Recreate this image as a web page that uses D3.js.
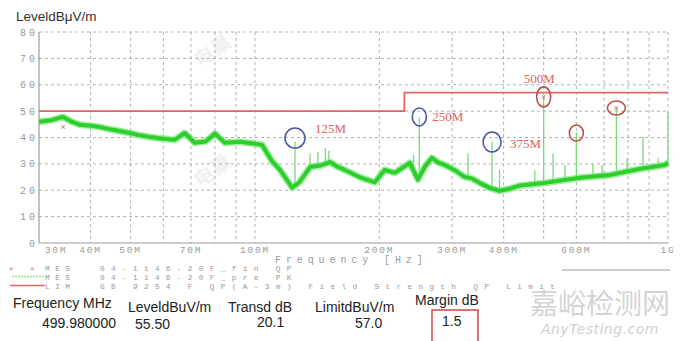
<!DOCTYPE html>
<html>
<head>
<meta charset="utf-8">
<script src="https://cdn.jsdelivr.net/npm/d3@7"></script>
<style>
  body { margin: 0; background: #fff; }
  svg { display: block; }
</style>
</head>
<body>
<script>
// trace: [MHz, dBuV/m]
var traceFreq = [30, 32, 34.3, 36, 37.7, 40, 42, 45, 49.8, 52, 55.6, 60, 63.9, 67.6, 71.5, 76, 80, 84.6, 92, 100,
  104, 110, 115, 123, 128, 136, 145, 152, 158, 165, 179, 195, 206, 218, 230, 237, 248, 258, 268, 278,
  288, 304, 322, 335, 350, 370, 391, 414, 438, 470, 504, 550, 612, 660, 723, 790, 855, 930, 983, 1000];
var traceLevel = [46, 46.5, 47.8, 46, 44.8, 44.5, 44, 43, 41.7, 41, 40.2, 39.5, 39.1, 41.7, 38, 38.5, 41.5, 38, 38.4, 37.6,
  37.2, 31, 27.7, 21, 23, 28.8, 29.5, 30.7, 29, 27.7, 25, 23, 27.7, 26.6, 29, 30.4, 24, 29, 32.3, 30.5,
  29.6, 27.7, 25, 24.5, 22.8, 20.9, 19.8, 20.6, 21.8, 22.3, 22.8, 23.7, 24.7, 25.2, 25.8, 27, 28.1, 29, 29.6, 30.5];

// peak spikes: frequency and top level
var spikeFreq = [125, 136, 142, 148, 151, 242, 250, 328, 375, 391, 476, 500, 527, 563, 600, 658, 692, 750, 796, 870, 946, 1000];
var spikeTop = [38.5, 34, 34.5, 36, 35, 33.4, 47.5, 34, 38.5, 27.7, 27.5, 55.5, 34, 29.6, 42, 30, 29.6, 51, 32.3, 40.2, 32.3, 49.7];

// limit line GB 9254
var limitFreq = [30, 230, 230, 1000];
var limitLevel = [50, 50, 57, 57];

// marked frequencies
var markFreq = [125, 250, 375, 500, 600, 750];
var markLevel = [39.8, 47.8, 38.3, 55.4, 41.7, 51.2];
var markType = ["blue", "blue", "blue", "red", "red", "red"];
var markLabel = ["125M", "250M", "375M", "500M", "", ""];

// QP results
var qpFreq = [34.3, 500, 750];
var qpLevel = [44, 55.5, 51];

var yTicks = [0, 10, 20, 30, 40, 50, 60, 70, 80];
var xGrid = [40, 50, 60, 70, 80, 90, 100, 200, 300, 400, 500, 600, 700, 800, 900, 1000];
var xTickVal = [30, 40, 50, 70, 100, 200, 300, 400, 600, 1000];
var xTickText = ["30M", "40M", "50M", "70M", "100M", "200M", "300M", "400M", "600M", "1G"];

var legendKey = ["MES", "MES", "LIM"];
var legendText = ["04-1146-20F_fin QP", "04-1146-20F_pre PK", "GB 9254 F QP(A-3m) Field Strength QP Limit"];

var tableHead = ["Frequency MHz", "LeveldBuV/m", "Transd dB", "LimitdBuV/m", "Margin dB"];
var tableVal = ["499.980000", "55.50", "20.1", "57.0", "1.5"];

var W = 680, H = 341;
var svg = d3.select("body").append("svg").attr("width", W).attr("height", H);

var x = d3.scaleLog().domain([30, 1000]).range([39, 668]);
var y = d3.scaleLinear().domain([0, 80]).range([243, 32]);

var grey = "#999";
var mono = "'Liberation Mono', 'DejaVu Sans Mono', monospace";
var sans = "'Liberation Sans', Arial, sans-serif";

// title
svg.append("text").attr("x", 16).attr("y", 21)
  .style("font-family", sans).style("font-size", "13.5px").style("fill", "#333")
  .text("LeveldBμV/m");

// faint logo watermarks in the plot
[[200, 68], [200, 188]].forEach(function (p) {
  svg.append("text").attr("transform", "translate(" + p[0] + "," + p[1] + ") rotate(-35)")
    .style("font-family", "'Noto Sans CJK SC'").style("font-size", "20px").style("font-weight", "bold")
    .style("fill", "#f0f0f0").text("电巢");
});

// grid
var g = svg.append("g");
g.selectAll(".hg").data(yTicks.slice(1)).enter().append("line")
  .attr("x1", 39).attr("x2", 668)
  .attr("y1", function (d) { return y(d); }).attr("y2", function (d) { return y(d); })
  .style("stroke", "#a8a8a8").style("stroke-width", 0.9).style("stroke-dasharray", "3,3");
g.selectAll(".vg").data(xGrid).enter().append("line")
  .attr("x1", function (d) { return x(d); }).attr("x2", function (d) { return x(d); })
  .attr("y1", y(80)).attr("y2", y(0))
  .style("stroke", "#a8a8a8").style("stroke-width", 0.9).style("stroke-dasharray", "3,3");

// axes lines
g.append("line").attr("x1", 39).attr("x2", 39).attr("y1", y(80)).attr("y2", y(0))
  .style("stroke", "#999").style("stroke-width", 1.2);
g.append("line").attr("x1", 39).attr("x2", 668).attr("y1", y(0)).attr("y2", y(0))
  .style("stroke", "#999").style("stroke-width", 1.2);

// y tick labels
svg.selectAll(".yl").data(yTicks).enter().append("text")
  .attr("x", 38).attr("y", function (d) { return y(d) + 3.5; })
  .attr("text-anchor", "end")
  .style("font-family", mono).style("font-size", "10px").style("letter-spacing", "3px")
  .style("fill", grey).text(function (d) { return d; });

// x tick labels
svg.selectAll(".xl").data(xTickVal).enter().append("text")
  .attr("x", function (d, i) { return i === 0 ? x(d) + 17 : x(d); })
  .attr("y", 253).attr("text-anchor", "middle")
  .style("font-family", mono).style("font-size", "9.5px").style("letter-spacing", "1.8px")
  .style("fill", grey).text(function (d, i) { return xTickText[i]; });

svg.append("text").attr("x", 275).attr("y", 263)
  .style("font-family", mono).style("font-size", "10px").style("letter-spacing", "4.9px").style("fill", grey)
  .text("Frequency [Hz]");

// limit line
var limitData = limitFreq.map(function (f, i) { return [f, limitLevel[i]]; });
svg.append("path").datum(limitData)
  .attr("d", d3.line().x(function (d) { return x(d[0]); }).y(function (d) { return y(d[1]); }))
  .style("fill", "none").style("stroke", "#e06666").style("stroke-width", 1.8);

// trace
var traceData = traceFreq.map(function (f, i) { return [f, traceLevel[i]]; });
var line = d3.line().x(function (d) { return x(d[0]); }).y(function (d) { return y(d[1]); });

function traceAt(f) {
  var i = d3.bisector(function (d) { return d[0]; }).left(traceData, f);
  if (i <= 0) return traceData[0][1];
  if (i >= traceData.length) return traceData[traceData.length - 1][1];
  var a = traceData[i - 1], b = traceData[i];
  var t = (Math.log(f) - Math.log(a[0])) / (Math.log(b[0]) - Math.log(a[0]));
  return a[1] + t * (b[1] - a[1]);
}

// spikes
svg.selectAll(".sp").data(spikeFreq).enter().append("line")
  .attr("x1", function (d) { return x(d); }).attr("x2", function (d) { return x(d); })
  .attr("y1", function (d) { return y(traceAt(d)); })
  .attr("y2", function (d, i) { return y(spikeTop[i]); })
  .style("stroke", "#7bd87b").style("stroke-width", 1.3);

svg.append("path").datum(traceData).attr("d", line)
  .style("fill", "none").style("stroke", "#7ee67e").style("stroke-width", 7)
  .style("stroke-linejoin", "round").style("opacity", 0.7);
svg.append("path").datum(traceData).attr("d", line)
  .style("fill", "none").style("stroke", "#2ccf2c").style("stroke-width", 4)
  .style("stroke-linejoin", "round");

// QP crosses
svg.selectAll(".qp").data(qpFreq).enter().append("text")
  .attr("x", function (d) { return x(d); })
  .attr("y", function (d, i) { return y(qpLevel[i]) + 3; })
  .attr("text-anchor", "middle")
  .style("font-family", sans).style("font-size", "9px").style("fill", "#e06666")
  .text("×");

// circles and labels
var ringSize = { "125M": [10, 10], "250M": [7, 9], "375M": [9, 10], "500M": [7, 10] };
var otherSize = [[7, 8], [9, 7]];
var labelOffset = { "125M": [20, -5], "250M": [13, 4], "375M": [18, 6], "500M": [-20, -14] };

svg.selectAll(".ring").data(markFreq).enter().append("ellipse")
  .attr("cx", function (d) { return x(d); })
  .attr("cy", function (d, i) { return y(markLevel[i]); })
  .attr("rx", function (d, i) { return markLabel[i] ? ringSize[markLabel[i]][0] : otherSize[i - 4][0]; })
  .attr("ry", function (d, i) { return markLabel[i] ? ringSize[markLabel[i]][1] : otherSize[i - 4][1]; })
  .style("fill", "none")
  .style("stroke", function (d, i) { return markType[i] === "blue" ? "#4b5aa6" : "#c0504d"; })
  .style("stroke-width", 1.6);

svg.selectAll(".ml").data(markFreq.filter(function (d, i) { return markLabel[i]; })).enter().append("text")
  .attr("x", function (d, i) { return x(d) + labelOffset[markLabel[i]][0]; })
  .attr("y", function (d, i) { return y(markLevel[i]) + labelOffset[markLabel[i]][1]; })
  .style("font-family", "'Liberation Serif', 'DejaVu Serif', serif").style("font-size", "13px")
  .style("fill", "#e06060")
  .text(function (d, i) { return markLabel[i]; });

// legend
var lg = svg.append("g");
var rowY = [270.5, 279.5, 288.5];
lg.append("text").attr("x", 9).attr("y", rowY[0]).style("font-family", sans).style("font-size", "8px")
  .style("fill", "#e06666").text("×");
lg.append("text").attr("x", 30).attr("y", rowY[0]).style("font-family", sans).style("font-size", "8px")
  .style("fill", "#e06666").text("×");
lg.append("line").attr("x1", 12).attr("x2", 45).attr("y1", rowY[1] - 3).attr("y2", rowY[1] - 3)
  .style("stroke", "#8be88b").style("stroke-width", 1.5).style("stroke-dasharray", "2,1");
lg.append("line").attr("x1", 10).attr("x2", 45).attr("y1", rowY[2] - 3).attr("y2", rowY[2] - 3)
  .style("stroke", "#e06666").style("stroke-width", 1.5);
lg.selectAll(".lk").data(legendKey).enter().append("text")
  .attr("x", 45).attr("y", function (d, i) { return rowY[i]; })
  .style("font-family", mono).style("font-size", "7.8px").style("letter-spacing", "5.5px").style("fill", grey)
  .text(function (d) { return d; });
lg.selectAll(".lt").data(legendText).enter().append("text")
  .attr("x", 100).attr("y", function (d, i) { return rowY[i]; })
  .style("font-family", mono).style("font-size", "7.8px").style("letter-spacing", "6.3px").style("fill", grey)
  .text(function (d) { return d; });

lg.append("line").attr("x1", 562).attr("x2", 670).attr("y1", 270).attr("y2", 270)
  .style("stroke", "#999").style("stroke-width", 1);

// watermark
svg.append("text").attr("x", 600).attr("y", 314).attr("text-anchor", "middle")
  .style("font-family", "'Noto Sans CJK SC'").style("font-size", "28px").style("fill", "#d4d4d4")
  .text("嘉峪检测网");
svg.append("text").attr("x", 600).attr("y", 334).attr("text-anchor", "middle")
  .style("font-family", "'DejaVu Sans', sans-serif").style("font-size", "14px").style("font-style", "italic")
  .style("fill", "#d0d0d0").style("letter-spacing", "0.5px")
  .text("AnyTesting.com");

// result table
var headX = [13, 128, 228, 315, 415];
var headY = [308, 312, 312, 312, 305];
var valX = [42, 135, 257, 355, 442];
var valY = [328, 329, 327, 328, 326];
svg.selectAll(".th").data(tableHead).enter().append("text")
  .attr("x", function (d, i) { return headX[i]; }).attr("y", function (d, i) { return headY[i]; })
  .style("font-family", sans).style("font-size", "14px").style("fill", "#222")
  .text(function (d) { return d; });
svg.selectAll(".tv").data(tableVal).enter().append("text")
  .attr("x", function (d, i) { return valX[i]; }).attr("y", function (d, i) { return valY[i]; })
  .style("font-family", sans).style("font-size", "14px").style("fill", "#222")
  .text(function (d) { return d; });

svg.append("path").attr("d", "M432,341 V310 H478 V341")
  .style("fill", "none").style("stroke", "#d04a40").style("stroke-width", 1.5);
</script>
</body>
</html>
